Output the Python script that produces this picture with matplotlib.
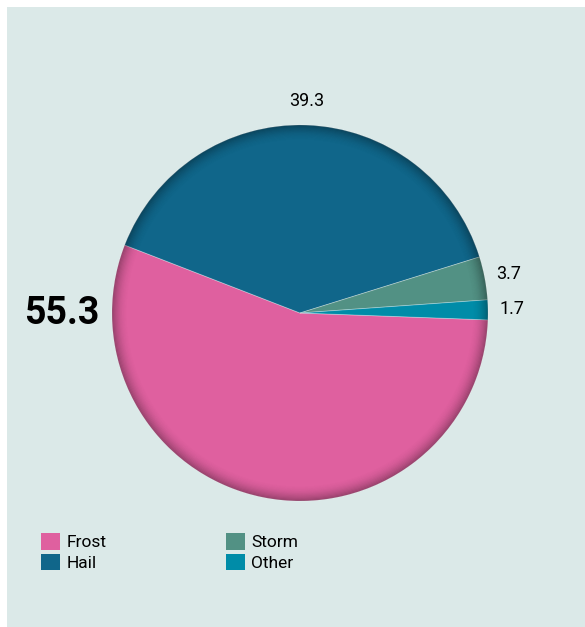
import numpy as np
import matplotlib.pyplot as plt
from matplotlib.patches import Wedge, Rectangle

plt.rcParams['font.family'] = ['Roboto', 'DejaVu Sans']

# damage causes, share in percent
causes = ['Frost', 'Hail', 'Storm', 'Other']
shares = [55.3, 39.3, 3.7, 1.7]
colors = ['#df609f', '#10668a', '#529184', '#008ca8']

bg = '#dbe9e8'

W, H = 585, 627
fig = plt.figure(figsize=(W / 100, H / 100), dpi=100)
fig.patch.set_facecolor('white')
fig.patches.append(Rectangle((7 / W, 0), 1 - 7 / W, 1 - 7 / H, transform=fig.transFigure,
                             facecolor=bg, edgecolor='none', zorder=-10))

# pie centre and radius in pixels
cx, cy, R = 300, 313, 188
ax = fig.add_axes([(cx - R) / W, (H - cy - R) / H, 2 * R / W, 2 * R / H])

wedges, _ = ax.pie(shares, colors=colors, startangle=-2.1, counterclock=False,
                   radius=1, wedgeprops=dict(edgecolor=(1, 1, 1, 0.35), linewidth=0.6))
ax.set_xlim(-1, 1)
ax.set_ylim(-1, 1)
ax.set_aspect('equal')
ax.axis('off')

# soft inner shadow along the rim
n = 14
for i in range(n):
    r = 1 - i * 0.006
    a = 0.32 * (1 - i / n) ** 2
    ax.add_patch(Wedge((0, 0), r, 0, 360, width=0.006, facecolor='black',
                       edgecolor='none', alpha=a))

# value labels
for i, (w, v) in enumerate(zip(wedges, shares)):
    mid = np.deg2rad((w.theta1 + w.theta2) / 2)
    if causes[i] == 'Frost':
        ax.text(-1.065, 0.0, f'{v:.1f}', ha='right', va='center', fontsize=27,
                fontweight='bold', color='black', clip_on=False)
    else:
        ax.text(1.13 * np.cos(mid), 1.13 * np.sin(mid), f'{v:.1f}', ha='center',
                va='center', fontsize=13, color='black', clip_on=False)

handles = [Rectangle((0, 0), 1, 1, facecolor=c, edgecolor='none') for c in colors]
fig.legend(handles, causes, loc='upper left', bbox_to_anchor=(41 / W, 1 - 533 / H),
           ncol=2, frameon=False, fontsize=12.5, handlelength=1.1, handleheight=1.1,
           handletextpad=0.35, labelspacing=0.2, columnspacing=6.9, borderpad=0,
           borderaxespad=0)

fig.savefig('out.png', dpi=100, facecolor=fig.get_facecolor())
